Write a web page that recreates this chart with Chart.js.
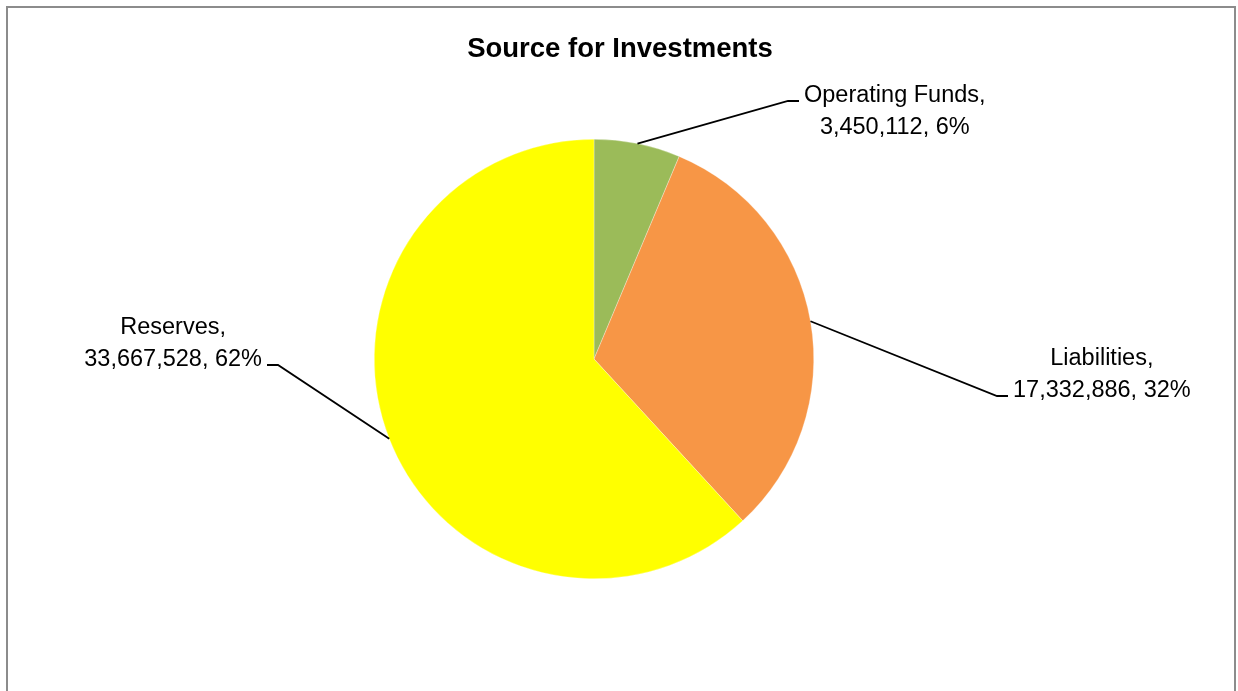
<!DOCTYPE html>
<html>
<head>
<meta charset="utf-8">
<script src="https://cdn.jsdelivr.net/npm/chart.js@4"></script>
<style>
  body { margin: 0; background: #fff; overflow: hidden; }
  #wrap { position: relative; width: 1238px; height: 691px; }
  #frame { position: absolute; left: 6px; top: 6px; width: 1226px; height: 720px; border: 2px solid #8c8c8c; }
  #title { position: absolute; left: 0; top: 33px; width: 1240px; text-align: center;
           font: bold 27.5px "Liberation Sans", Arial, sans-serif; line-height: 30px; color: #000; }
  #chart { position: absolute; left: 0; top: 0; }
</style>
</head>
<body>
<div id="wrap">
  <div id="frame"></div>
  <canvas id="chart" width="1238" height="691"></canvas>
  <div id="title">Source for Investments</div>
</div>
<script>
const categories = ['Operating Funds', 'Liabilities', 'Reserves']
const amounts = [3450112, 17332886, 33667528]
const sliceColors = ['#9BBB59', '#F79646', '#FFFF00']

// where each leader line bends, relative to the pie centre (layout only)
const labelSpots = [
  { dx: 194, dy: -258, line: 0 },
  { dx: 403, dy: 37, line: 1 },
  { dx: -316, dy: 6, line: 1 }
]

const leaderLabels = {
  id: 'leaderLabels',
  afterDatasetsDraw(chart, args, opts) {
    const ctx = chart.ctx
    const meta = chart.getDatasetMeta(0)
    const values = chart.data.datasets[0].data
    const total = values.reduce((a, b) => a + b, 0)
    meta.data.forEach((arc, i) => {
      const p = arc.getProps(['x', 'y', 'startAngle', 'endAngle', 'outerRadius'], true)
      const mid = (p.startAngle + p.endAngle) / 2
      const sx = p.x + Math.cos(mid) * p.outerRadius
      const sy = p.y + Math.sin(mid) * p.outerRadius
      const spot = opts.spots[i]
      const ex = p.x + spot.dx, ey = p.y + spot.dy
      const dir = spot.dx >= 0 ? 1 : -1
      const tx = ex + dir * opts.stub

      ctx.save()
      ctx.strokeStyle = '#000'
      ctx.lineWidth = 1.8
      ctx.beginPath()
      ctx.moveTo(sx, sy)
      ctx.lineTo(ex, ey)
      ctx.lineTo(tx, ey)
      ctx.stroke()

      const pct = Math.round(values[i] / total * 100)
      const lines = [
        chart.data.labels[i] + ',',
        values[i].toLocaleString('en-US') + ', ' + pct + '%'
      ]
      ctx.font = opts.font
      ctx.fillStyle = '#000'
      const w = Math.max(...lines.map(l => ctx.measureText(l).width))
      const bx = dir > 0 ? tx + opts.gap : tx - opts.gap - w
      ctx.textAlign = 'center'
      ctx.textBaseline = 'alphabetic'
      lines.forEach((l, k) => {
        ctx.fillText(l, bx + w / 2, ey + 1 + (k - spot.line) * opts.lineHeight)
      })
      ctx.restore()
    })
  }
}

new Chart(document.getElementById('chart'), {
  type: 'pie',
  data: {
    labels: categories,
    datasets: [{
      data: amounts,
      backgroundColor: sliceColors,
      borderColor: 'rgba(255,255,255,0.6)',
      borderWidth: 0.5
    }]
  },
  options: {
    responsive: false,
    animation: false,
    events: [],
    layout: { padding: { top: 139, bottom: 112, left: 0, right: 50 } },
    plugins: {
      legend: { display: false },
      title: { display: false },
      tooltip: { enabled: false },
      leaderLabels: {
        spots: labelSpots,
        stub: 11,
        gap: 5,
        lineHeight: 32,
        font: '23.5px "Liberation Sans", Arial, sans-serif'
      }
    }
  },
  plugins: [leaderLabels]
})
</script>
</body>
</html>
